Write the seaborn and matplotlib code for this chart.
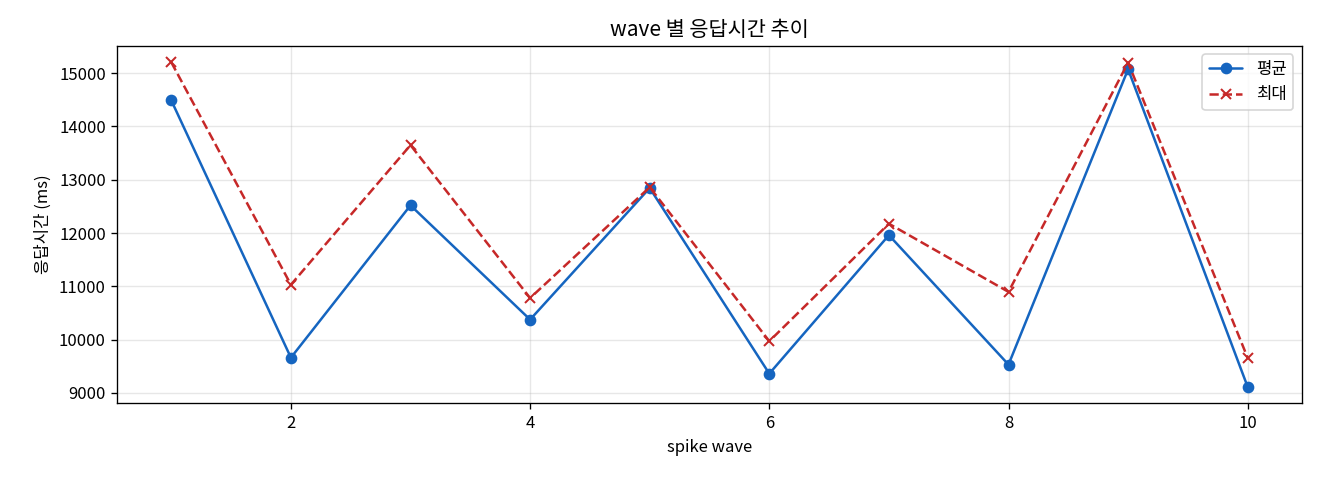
import numpy as np
import pandas as pd
import seaborn as sns
import matplotlib.pyplot as plt

# wave 별 응답시간 (ms)
waves = [1, 2, 3, 4, 5, 6, 7, 8, 9, 10]
avg_ms = [14490, 9660, 12520, 10375, 12845, 9360, 11960, 9530, 15075, 9110]
max_ms = [15205, 11030, 13650, 10780, 12860, 9970, 12175, 10895, 15200, 9655]

sns.set_style("ticks", {"axes.edgecolor": "black", "text.color": "black",
                        "axes.labelcolor": "black", "xtick.color": "black",
                        "ytick.color": "black", "grid.color": "#b0b0b0"})
plt.rcParams['font.family'] = ['Noto Sans CJK KR', 'DejaVu Sans']
plt.rcParams['axes.unicode_minus'] = False

df = pd.DataFrame({"wave": waves, "평균": avg_ms, "최대": max_ms})

fig, ax = plt.subplots(figsize=(11, 4), dpi=120)
sns.lineplot(data=df, x="wave", y="평균", ax=ax, color="#1565C0",
             marker="o", markersize=6, markeredgecolor="#1565C0",
             markeredgewidth=1, label="평균")
sns.lineplot(data=df, x="wave", y="최대", ax=ax, color="#C62828",
             marker="x", markersize=6, markeredgecolor="#C62828",
             markeredgewidth=1.2, linestyle="--", label="최대")

ax.set_title("wave 별 응답시간 추이", fontsize=12.5)
ax.set_xlabel("spike wave")
ax.set_ylabel("응답시간 (ms)")
ax.grid(True, alpha=0.3)
ax.legend(loc="upper right")

fig.subplots_adjust(left=0.089, right=0.986, top=0.904, bottom=0.16)
plt.savefig("out.png")
